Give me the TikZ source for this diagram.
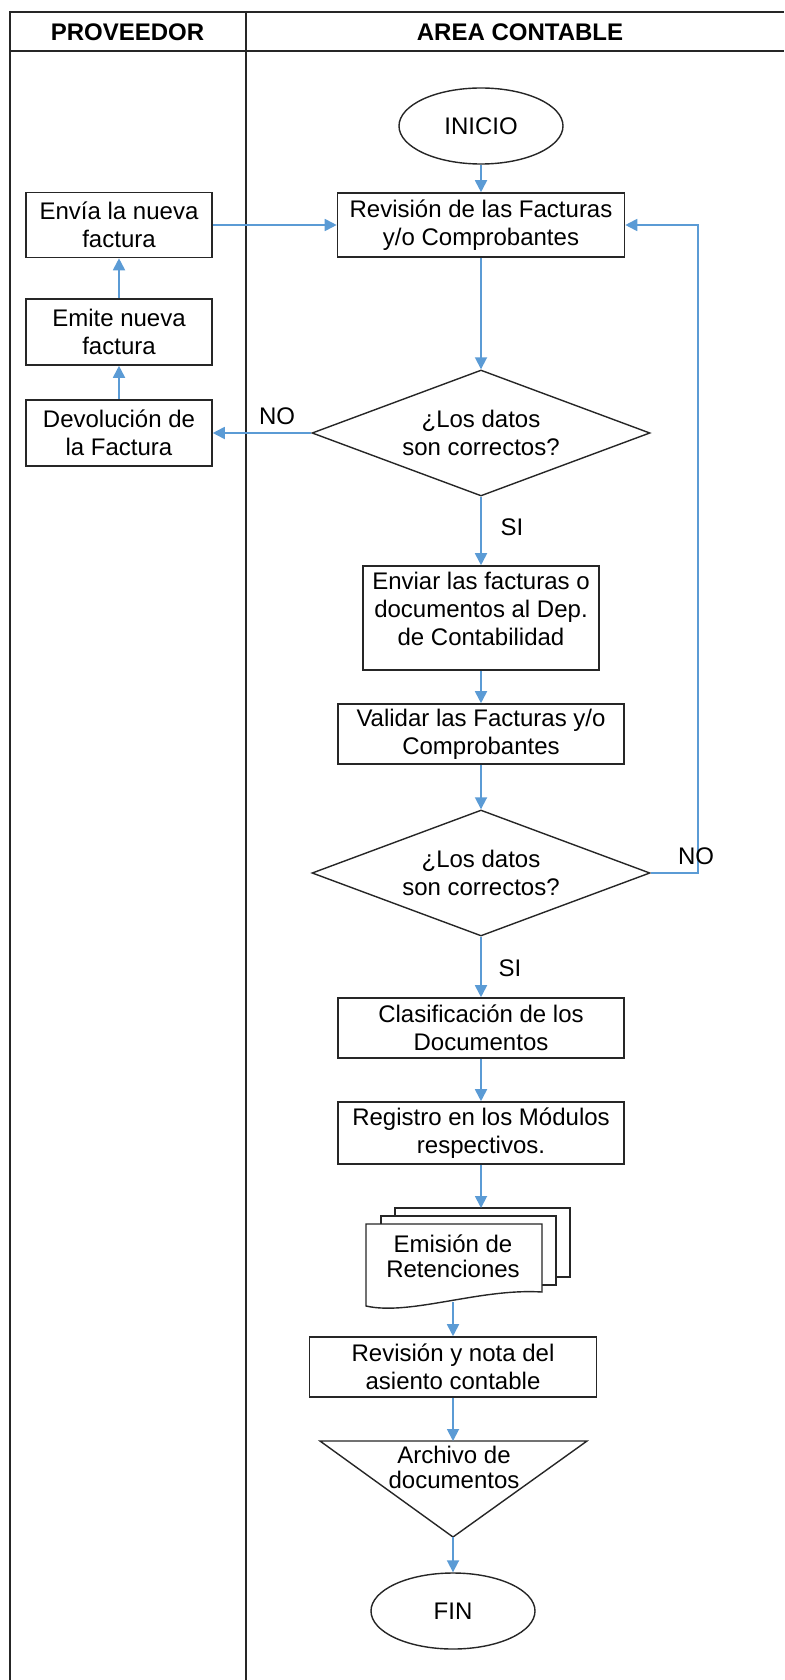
\documentclass[tikz,border=0pt]{standalone}
\usepackage{fontspec}
\setmainfont{Liberation Sans}
\usetikzlibrary{shapes.geometric,arrows.meta}
\definecolor{flowblue}{RGB}{91,155,213}
\definecolor{framegray}{RGB}{38,38,38}
\begin{document}
\begin{tikzpicture}[x=1pt,y=-1pt,
  every node/.style={font=\fontsize{24}{28}\selectfont, align=center, inner sep=0pt},
  lane/.style={draw=framegray, line width=2pt},
  procbox/.style={draw=framegray, line width=1.6pt, fill=white, rectangle},
  terminal/.style={draw=framegray, line width=1.4pt, fill=white, ellipse, minimum width=164pt, minimum height=76pt},
  decision/.style={draw=framegray, line width=1.4pt, fill=white, diamond, aspect=2.7, minimum width=338pt, minimum height=126pt},
  shapeline/.style={draw=framegray, line width=1.4pt, fill=white},
  flow/.style={draw=flowblue, line width=1.8pt, -{Triangle[length=12pt,width=12pt]}},
  tag/.style={font=\fontsize{24}{28}\selectfont},
  tight/.style={font=\fontsize{24}{25}\selectfont}
]
\useasboundingbox (0,0) rectangle (784,1680);

% swimlane frame
\draw[lane] (9.5,12) -- (784,12);
\draw[lane] (9.5,51) -- (784,51);
\draw[lane] (9.5,11) -- (9.5,1680);
\draw[lane] (246,11) -- (246,1680);
\node[font=\fontsize{24}{28}\selectfont\bfseries] (hprov) at (127.5,32) {PROVEEDOR};
\node[font=\fontsize{24}{28}\selectfont\bfseries] (harea) at (520,32) {AREA CONTABLE};

% main column
\node[terminal] (inicio) at (481,126) {INICIO};
\node[procbox, minimum width=287pt, minimum height=64pt] (rev1) at (481,225) {Revisión de las Facturas\\y/o Comprobantes};
\node[decision] (dec1) at (481,433) {¿Los datos\\son correctos?};
\node[procbox, minimum width=236pt, minimum height=104pt, text depth=19pt] (enviar) at (481,618) {Enviar las facturas o\\documentos al Dep.\\de Contabilidad};
\node[procbox, minimum width=286pt, minimum height=60pt] (validar) at (481,734) {Validar las Facturas y/o\\Comprobantes};
\node[decision] (dec2) at (481,873) {¿Los datos\\son correctos?};
\node[procbox, minimum width=286pt, minimum height=60pt] (clasif) at (481,1028) {Clasificación de los\\Documentos};
\node[procbox, minimum width=286pt, minimum height=62pt] (registro) at (481,1133) {Registro en los Módulos\\respectivos.};

% supplier column
\node[procbox, minimum width=186pt, minimum height=65pt] (envia) at (119,225) {Envía la nueva\\factura};
\node[procbox, minimum width=186pt, minimum height=66pt] (emite) at (119,332) {Emite nueva\\factura};
\node[procbox, minimum width=186pt, minimum height=66pt] (devol) at (119,433) {Devolución de\\la Factura};

% multi-document symbol
\draw[shapeline] (395,1208) rectangle (570,1277);
\draw[shapeline] (381,1216) rectangle (556,1285);
\draw[shapeline] (366,1224) -- (542,1224) -- (542,1292)
  .. controls (480,1288) and (410,1316) .. (366,1306) -- cycle;
\coordinate (doctop) at (481,1208);
\coordinate (docbot) at (453,1302);
\node[tight] (emision) at (453,1256) {Emisión de\\Retenciones};

\node[procbox, minimum width=287pt, minimum height=60pt] (revnota) at (453,1367) {Revisión y nota del\\asiento contable};

% archive (inverted triangle)
\coordinate (tritop) at (453,1441);
\coordinate (triapex) at (453,1537);
\draw[shapeline] (320,1441) -- (587,1441) -- (triapex) -- cycle;
\node[tight] (archivo) at (454,1467) {Archivo de\\documentos};

\node[terminal] (fin) at (453,1611) {FIN};

% connectors
\draw[flow] (inicio) -- (rev1);
\draw[flow] (envia) -- (rev1);
\draw[flow] (rev1) -- (dec1);
\draw[flow] (dec1.west) -- (devol.east);
\draw[flow] (devol) -- (emite);
\draw[flow] (emite) -- (envia);
\draw[flow] (dec1.south) -- (enviar.north);
\draw[flow] (enviar) -- (validar);
\draw[flow] (validar) -- (dec2.north);
\draw[flow] (dec2.east) -- (698,873) |- (rev1.east);
\draw[flow] (dec2.south) -- (clasif.north);
\draw[flow] (clasif) -- (registro);
\draw[flow] (registro.south) -- (doctop);
\draw[flow] (docbot) -- (revnota.north);
\draw[flow] (revnota.south) -- (tritop);
\draw[flow] (triapex) -- (fin.north);

% branch labels
\node[tag] (no1) at (277,416) {NO};
\node[tag] (si1) at (512,527) {SI};
\node[tag] (no2) at (696,856) {NO};
\node[tag] (si2) at (510,968) {SI};
\end{tikzpicture}
\end{document}
